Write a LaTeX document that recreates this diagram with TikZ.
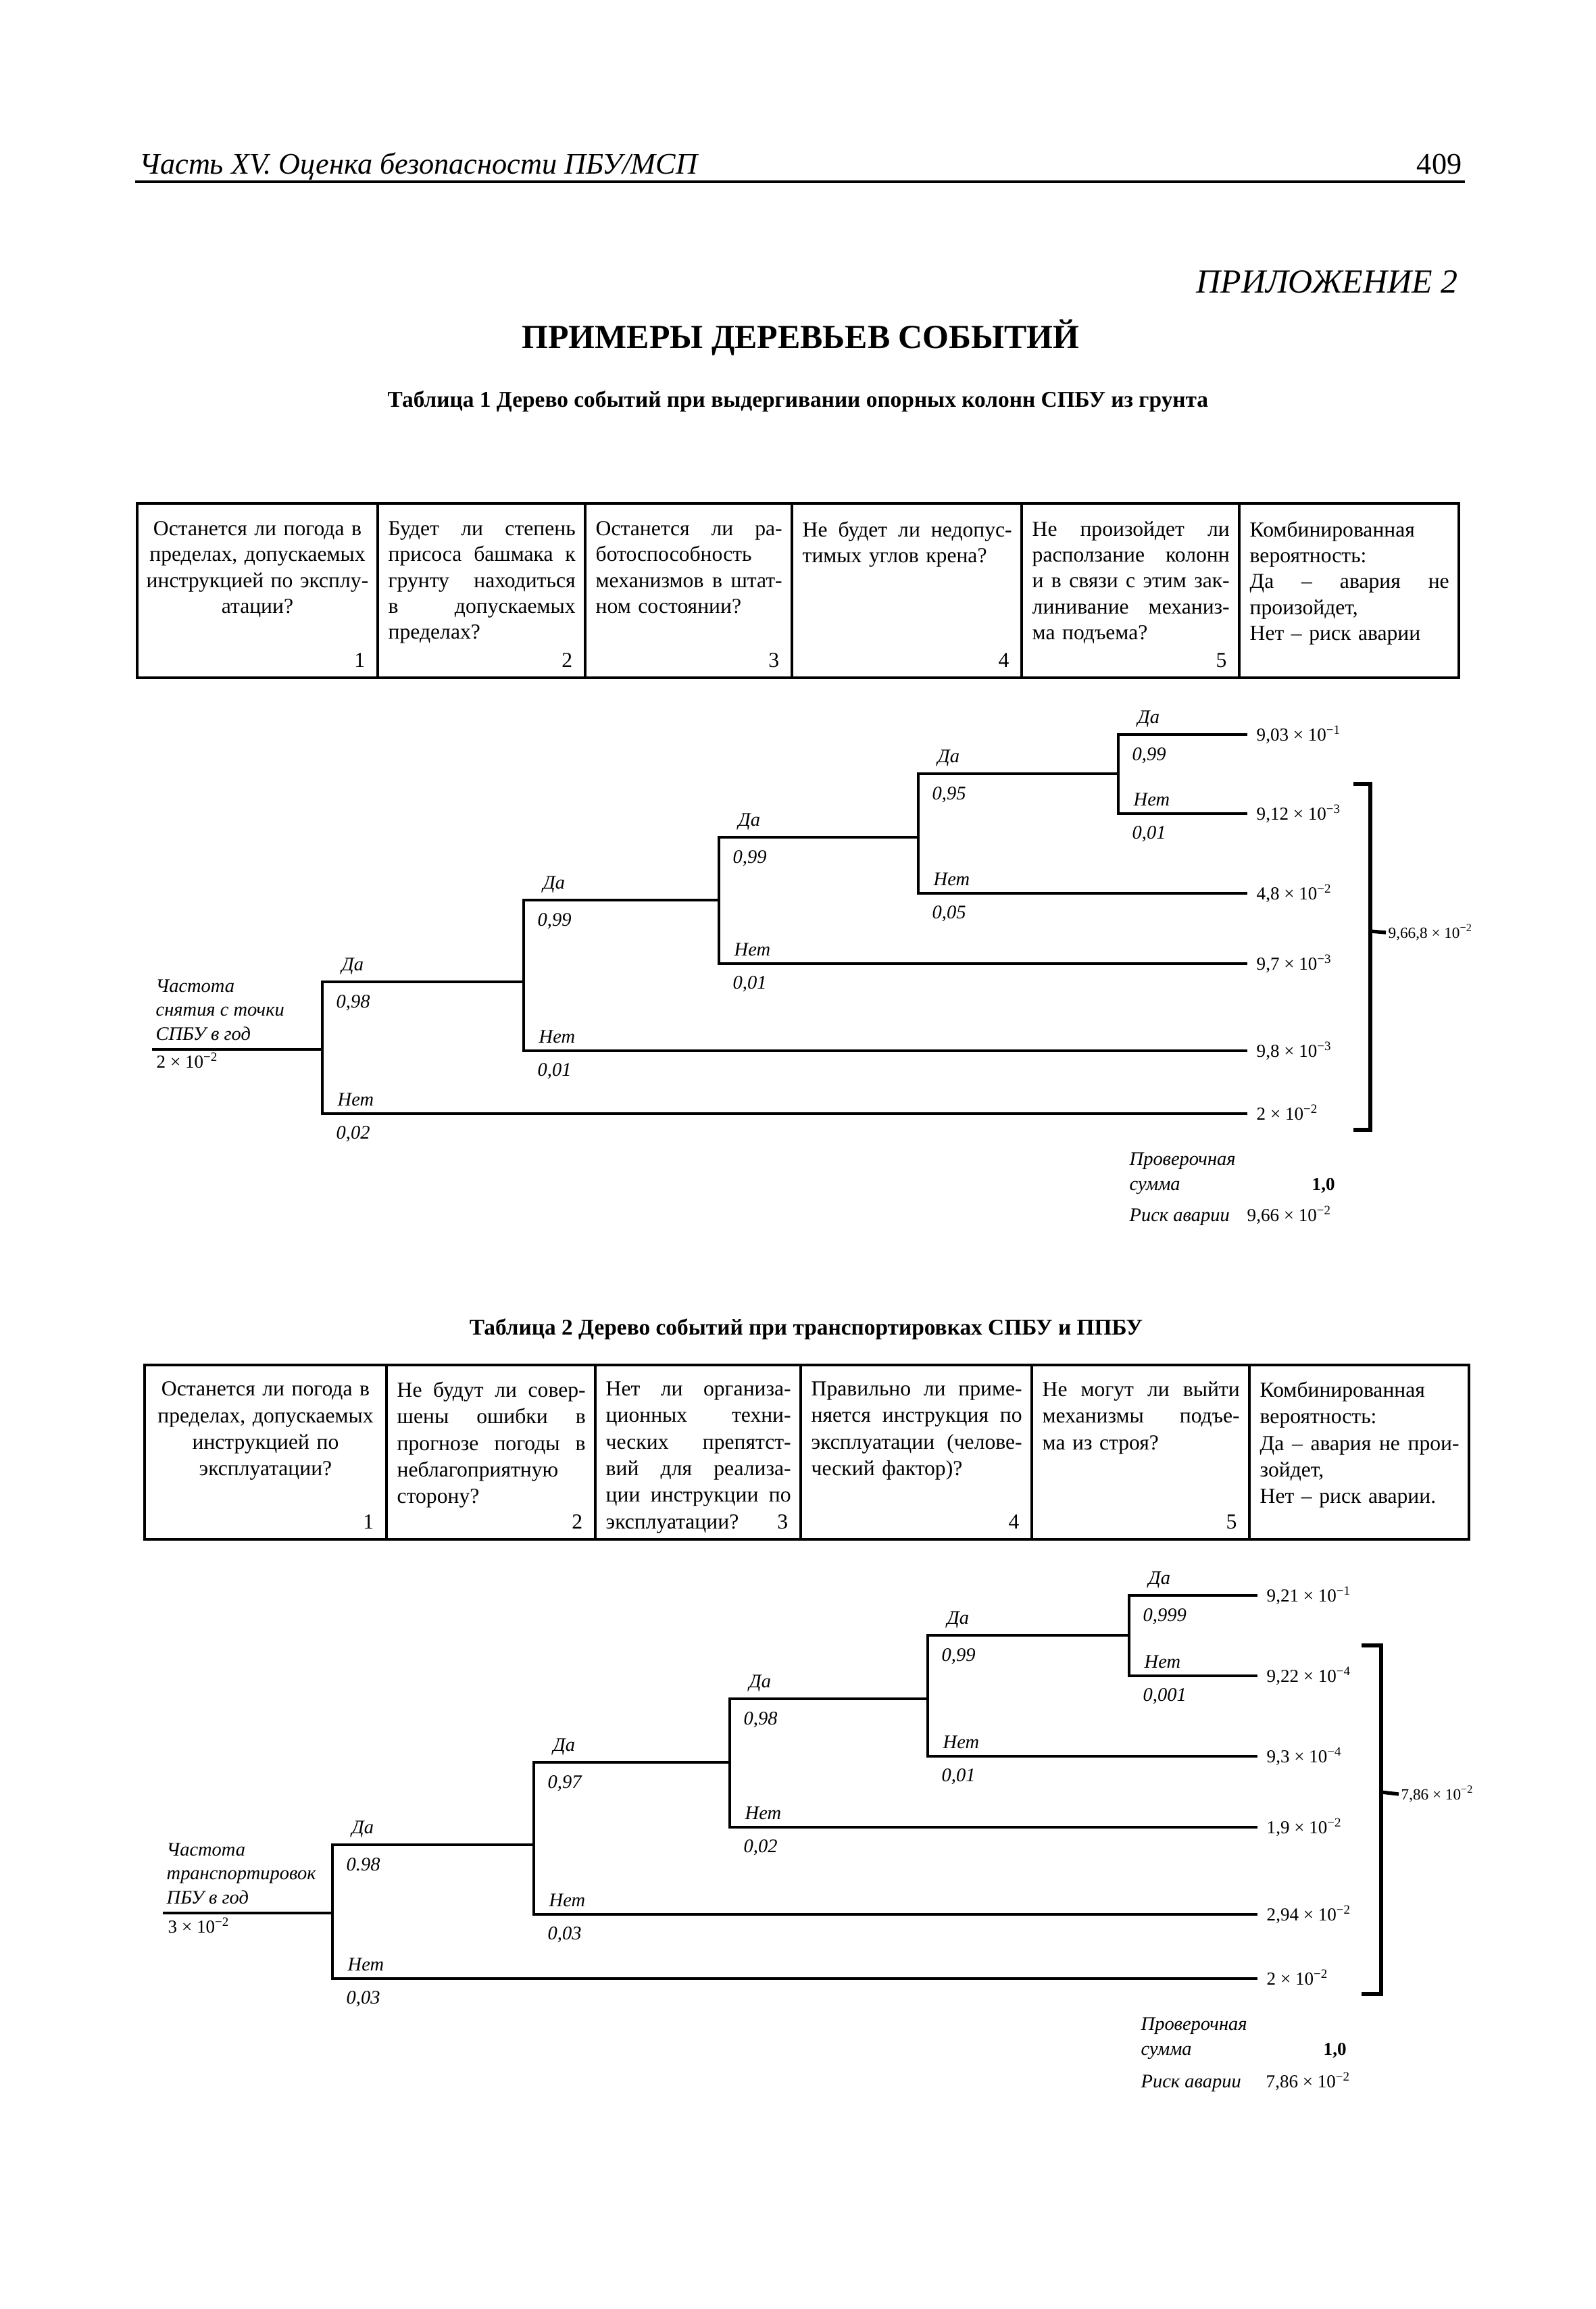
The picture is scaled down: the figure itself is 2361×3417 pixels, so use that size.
\documentclass[tikz,border=0pt]{standalone}
\usepackage{fontspec}
\setmainfont{Liberation Serif}

\newcommand\tabfont{\fontsize{9}{10.9}\selectfont}
\newcommand\tabfontb{\fontsize{9}{11.2}\selectfont}
\newcommand\trfont{\fontsize{7.7}{10}\selectfont}
\newcommand\itfont{\fontsize{8.1}{10}\selectfont\itshape}
\newcommand\jl[1]{{\spaceskip=0pt\xspaceskip=0pt\makebox[\hsize][s]{#1}}}
\newcommand\pw[1]{10\textsuperscript{−#1}}

\tikzset{
  tabline/.style={line width=1pt},
  branch/.style={line width=0.9pt},
  bracket/.style={line width=1.5pt},
  cell/.style={anchor=north west, inner sep=0pt, align=left, font=\tabfont},
  cellb/.style={cell, font=\tabfontb},
  num/.style={anchor=base east, inner sep=0pt, font=\tabfont},
  yes/.style={anchor=base west, inner sep=0pt, font=\itfont},
  prob/.style={anchor=base west, inner sep=0pt, font=\itfont},
  outcome/.style={anchor=west, inner xsep=1.3mm, inner ysep=0pt, text height=2.3mm, text depth=0.5mm, font=\trfont},
  sumlab/.style={anchor=west, inner xsep=0.3mm, inner ysep=0pt, font=\fontsize{6.6}{8}\selectfont},
  note/.style={anchor=base west, inner sep=0pt, font=\itfont},
}

\begin{document}
\begin{tikzpicture}[x=0.1mm,y=-0.1mm]
\useasboundingbox (0,0) rectangle (2361,3417);
\fill[white] (0,0) rectangle (2361,3417);

% page head
\node[anchor=base west, inner sep=0pt, font=\fontsize{12.6}{15}\selectfont\itshape] (head) at (206,257) {Часть XV. Оценка безопасности ПБУ/МСП};
\node[anchor=base east, inner sep=0pt, font=\fontsize{12.6}{15}\selectfont] (page) at (2164,257) {409};
\draw[line width=1.4pt] (200,269) -- (2168,269);

\node[anchor=base east, inner sep=0pt, font=\fontsize{14.2}{16}\selectfont\itshape] (app) at (2158,433) {ПРИЛОЖЕНИЕ 2};
\node[anchor=base, inner sep=0pt, font=\fontsize{14.2}{16}\selectfont\bfseries] (title) at (1185,515) {ПРИМЕРЫ ДЕРЕВЬЕВ СОБЫТИЙ};
\node[anchor=base, inner sep=0pt, font=\fontsize{9.5}{11}\selectfont\bfseries] (cap1) at (1181,602) {Таблица 1 Дерево событий при выдергивании опорных колонн СПБУ из грунта};

% table 1
\draw[tabline] (203,745) rectangle (2159,1003);
\foreach \x in {559,866,1172,1512,1834} \draw[tabline] (\x,745) -- (\x,1003);
\node[cell, anchor=north, align=center, text width=34mm] (c11) at (381,771) {\mbox{Останется ли погода в}\\ \mbox{пределах, допускаемых}\\ \mbox{инструкцией по эксплу-}\\ атации?};
\node[cell, text width=27.7mm] (c12) at (574,771) {\jl{Будет ли степень}\\ \jl{присоса башмака к}\\ \jl{грунту находиться}\\ \jl{в допускаемых}\\ пределах?};
\node[cell, text width=27.6mm] (c13) at (881,771) {\jl{Останется ли ра-}\\ ботоспособность\\ \jl{механизмов в штат-}\\ ном состоянии?};
\node[cell, text width=31mm] (c14) at (1187,771) {\jl{Не будет ли недопус-}\\ тимых углов крена?};
\node[cell, text width=29.2mm] (c15) at (1527,771) {\jl{Не произойдет ли}\\ \jl{расползание колонн}\\ \jl{и в связи с этим зак-}\\ \jl{линивание механиз-}\\ ма подъема?};
\node[cell, text width=29.5mm] (c16) at (1849,771) {Комбинированная\\ вероятность:\\ \jl{Да – авария не}\\ произойдет,\\ Нет – риск аварии};
\foreach \x/\k in {541/1,848/2,1154/3,1494/4,1816/5} \node[num] (n1\k) at (\x,987) {\k};

% tree 1
\foreach \k/\y/\v in {1/1087/{9,03 × \pw{1}}, 2/1204/{9,12 × \pw{3}}, 3/1322/{4,8 × \pw{2}}, 4/1426/{9,7 × \pw{3}}, 5/1555/{9,8 × \pw{3}}, 6/1648/{2 × \pw{2}}}
  \node[outcome] (a\k) at (1846,\y) {\v};
\node[note, anchor=south west, align=left] (r1) at (230,1540) {Частота\\ снятия с точки\\ СПБУ в год};
\node[anchor=base west, inner sep=0pt, font=\trfont] (f1) at (231,1580) {2 × \pw{2}};
\draw[branch] (225,1553) -- (477,1553);
\foreach \x/\yd/\yn/\nx/\pd/\pn/\k in {477/1453/1648/775/{0,98}/{0,02}/6, 775/1332/1555/1064/{0,99}/{0,01}/5, 1064/1239/1426/1359/{0,99}/{0,01}/4, 1359/1145/1322/1655/{0,95}/{0,05}/3, 1655/1087/1204/1846/{0,99}/{0,01}/2} {
  \draw[branch] (\nx,\yd) -- (\x,\yd) -- (\x,\yn) -- (a\k);
  \node[yes] (ya\k) at (\x+28,\yd-17) {Да};
  \node[prob] (pa\k) at (\x+20,\yd+38) {\pd};
  \node[yes] (na\k) at (\x+22,\yn-12) {Нет};
  \node[prob] (qa\k) at (\x+20,\yn+37) {\pn};
}
\draw[bracket] (2003,1160) -- (2028,1160) -- (2028,1672) -- (2003,1672);
\node[sumlab] (s1) at (2051,1380) {9,66,8 × \pw{2}};
\draw[bracket] (2028,1378) -- (s1.west);
\node[note] (k1) at (1671,1724) {Проверочная};
\node[note] (k2) at (1671,1761) {сумма};
\node[anchor=base west, inner sep=0pt, font=\trfont\bfseries] (k3) at (1941,1761) {1,0};
\node[note] (k4) at (1671,1807) {Риск аварии};
\node[anchor=base west, inner sep=0pt, font=\trfont] (k5) at (1845,1807) {9,66 × \pw{2}};

% table 2
\node[anchor=base, inner sep=0pt, font=\fontsize{9.5}{11}\selectfont\bfseries] (cap2) at (1193,1975) {Таблица 2 Дерево событий при транспортировках СПБУ и ППБУ};
\draw[tabline] (214,2020) rectangle (2174,2278);
\foreach \x in {572,881,1185,1527,1849} \draw[tabline] (\x,2020) -- (\x,2278);
\node[cellb, anchor=north, align=center, text width=34mm] (c21) at (393,2044) {\mbox{Останется ли погода в}\\ \mbox{пределах, допускаемых}\\ инструкцией по\\ эксплуатации?};
\node[cellb, text width=27.9mm] (c22) at (587,2044) {\jl{Не будут ли совер-}\\ \jl{шены ошибки в}\\ \jl{прогнозе погоды в}\\ неблагоприятную\\ сторону?};
\node[cellb, text width=27.4mm] (c23) at (896,2044) {\jl{Нет ли организа-}\\ \jl{ционных техни-}\\ \jl{ческих препятст-}\\ \jl{вий для реализа-}\\ \jl{ции инструкции по}\\ эксплуатации?};
\node[cellb, text width=31.2mm] (c24) at (1200,2044) {\jl{Правильно ли приме-}\\ \jl{няется инструкция по}\\ \jl{эксплуатации (челове-}\\ ческий фактор)?};
\node[cellb, text width=29.2mm] (c25) at (1542,2044) {\jl{Не могут ли выйти}\\ \jl{механизмы подъе-}\\ ма из строя?};
\node[cellb, text width=29.5mm] (c26) at (1864,2044) {Комбинированная\\ вероятность:\\ \jl{Да – авария не прои-}\\ зойдет,\\ Нет – риск аварии.};
\foreach \x/\k in {554/1,863/2,1167/3,1509/4,1831/5} \node[num] (n2\k) at (\x,2262) {\k};

% tree 2
\foreach \k/\y/\v in {1/2361/{9,21 × \pw{1}}, 2/2480/{9,22 × \pw{4}}, 3/2599/{9,3 × \pw{4}}, 4/2704/{1,9 × \pw{2}}, 5/2833/{2,94 × \pw{2}}, 6/2928/{2 × \pw{2}}}
  \node[outcome] (b\k) at (1861,\y) {\v};
\node[note, anchor=south west, align=left] (r2) at (246,2818) {Частота\\ транспортировок\\ ПБУ в год};
\node[anchor=base west, inner sep=0pt, font=\trfont] (f2) at (248,2860) {3 × \pw{2}};
\draw[branch] (241,2831) -- (492,2831);
\foreach \x/\yd/\yn/\nx/\pd/\pn/\k in {492/2730/2928/790/{0.98}/{0,03}/6, 790/2608/2833/1080/{0,97}/{0,03}/5, 1080/2514/2704/1373/{0,98}/{0,02}/4, 1373/2420/2599/1671/{0,99}/{0,01}/3, 1671/2361/2480/1861/{0,999}/{0,001}/2} {
  \draw[branch] (\nx,\yd) -- (\x,\yd) -- (\x,\yn) -- (b\k);
  \node[yes] (yb\k) at (\x+28,\yd-17) {Да};
  \node[prob] (pb\k) at (\x+20,\yd+38) {\pd};
  \node[yes] (nb\k) at (\x+22,\yn-12) {Нет};
  \node[prob] (qb\k) at (\x+20,\yn+37) {\pn};
}
\draw[bracket] (2015,2435) -- (2044,2435) -- (2044,2951) -- (2015,2951);
\node[sumlab] (s2) at (2070,2655) {7,86 × \pw{2}};
\draw[bracket] (2044,2652) -- (s2.west);
\node[note] (m1) at (1688,3004) {Проверочная};
\node[note] (m2) at (1688,3041) {сумма};
\node[anchor=base west, inner sep=0pt, font=\trfont\bfseries] (m3) at (1958,3041) {1,0};
\node[note] (m4) at (1688,3089) {Риск аварии};
\node[anchor=base west, inner sep=0pt, font=\trfont] (m5) at (1873,3089) {7,86 × \pw{2}};
\end{tikzpicture}
\end{document}
